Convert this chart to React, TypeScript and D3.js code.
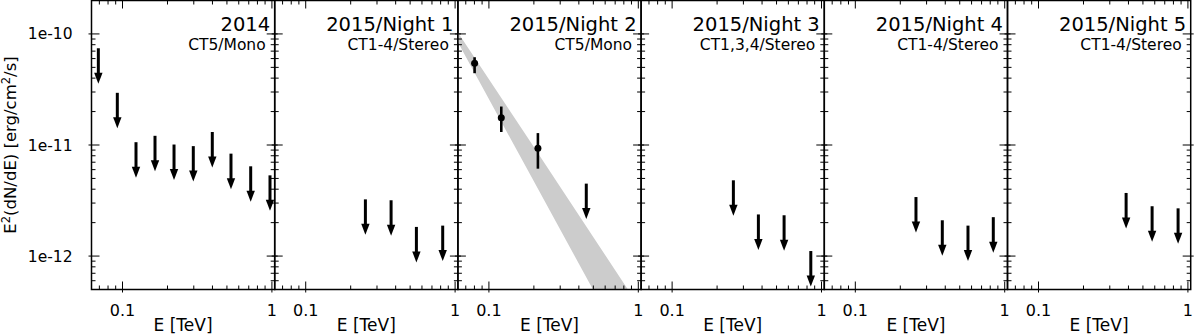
import React, { useEffect, useRef } from 'react'
import { select, scaleLog } from 'd3'

// panel headers
const panelTitles = ['2014', '2015/Night 1', '2015/Night 2', '2015/Night 3', '2015/Night 4', '2015/Night 5']
const panelSubtitles = ['CT5/Mono', 'CT1-4/Stereo', 'CT5/Mono', 'CT1,3,4/Stereo', 'CT1-4/Stereo', 'CT1-4/Stereo']

// upper limits, E [TeV] and E^2 dN/dE [erg/cm2/s]
const ul2014E = [0.0689, 0.0923, 0.1231, 0.165, 0.2212, 0.2977, 0.399, 0.5322, 0.7211, 0.971]
const ul2014F = [7.43e-11, 2.95e-11, 1.06e-11, 1.21e-11, 1.01e-11, 9.77e-12, 1.31e-11, 8.36e-12, 6.43e-12, 5.33e-12]
const ulNight1E = [0.2509, 0.3728, 0.5507, 0.826]
const ulNight1F = [3.24e-12, 3.18e-12, 1.83e-12, 1.88e-12]
const ulNight2E = [0.4485]
const ulNight2F = [4.49e-12]
const ulNight3E = [0.2571, 0.378, 0.5618, 0.8479]
const ulNight3F = [4.81e-12, 2.37e-12, 2.33e-12, 1.11e-12]
const ulNight4E = [0.2547, 0.3822, 0.5678, 0.8387]
const ulNight4F = [3.4e-12, 2.1e-12, 1.88e-12, 2.24e-12]
const ulNight5E = [0.3858, 0.5759, 0.8596]
const ulNight5F = [3.7e-12, 2.81e-12, 2.69e-12]

// night 2 flux points with errors
const night2E = [0.0802, 0.121, 0.2128]
const night2F = [5.44e-11, 1.76e-11, 9.37e-12]
const night2Lo = [4.43e-11, 1.31e-11, 6.12e-12]
const night2Hi = [6.17e-11, 2.22e-11, 1.28e-11]

// night 2 fitted spectrum band edges
const bandUpperE = [0.062, 0.192, 0.852]
const bandUpperF = [1.03e-10, 1.04e-11, 5.0e-13]
const bandLowerE = [0.062, 0.192, 0.497]
const bandLowerF = [8.4e-11, 5.2e-12, 5.0e-13]

const ulE = [ul2014E, ulNight1E, ulNight2E, ulNight3E, ulNight4E, ulNight5E]
const ulF = [ul2014F, ulNight1F, ulNight2F, ulNight3F, ulNight4F, ulNight5F]

const xMajor = [0.1, 1]
const xMajorLabels = ['0.1', '1']
const xMinor = [0.07, 0.08, 0.09, 0.2, 0.3, 0.4, 0.5, 0.6, 0.7, 0.8, 0.9]
const yMajor = [1e-12, 1e-11, 1e-10]
const yMajorLabels = ['1e-12', '1e-11', '1e-10']
const yMinor = [6e-13, 7e-13, 8e-13, 9e-13,
  2e-12, 3e-12, 4e-12, 5e-12, 6e-12, 7e-12, 8e-12, 9e-12,
  2e-11, 3e-11, 4e-11, 5e-11, 6e-11, 7e-11, 8e-11, 9e-11]

function SedPanels() {
  const ref = useRef<SVGSVGElement>(null)

  useEffect(() => {
    const svg = select(ref.current)
    svg.selectAll('*').remove()

    const left = 91.5
    const panelW = 183.2
    const top = 0.5
    const bottom = 289.5
    const font = 'DejaVu Sans'

    const x = scaleLog().domain([0.062, 1.044]).range([0, panelW])
    const y = scaleLog().domain([5e-13, 2e-10]).range([bottom, top])

    const majLen = 8, minLen = 4, outLen = 3

    panelTitles.forEach((title, i) => {
      const g = svg.append('g').attr('transform', `translate(${left + i * panelW},0)`)

      // clip for band
      const clipId = `clip${i}`
      g.append('clipPath').attr('id', clipId)
        .append('rect').attr('x', 0).attr('y', top).attr('width', panelW).attr('height', bottom - top)

      if (i === 2) {
        const pts: [number, number][] = []
        bandUpperE.forEach((e, k) => pts.push([x(e), y(bandUpperF[k])]))
        for (let k = bandLowerE.length - 1; k >= 0; k--) pts.push([x(bandLowerE[k]), y(bandLowerF[k])])
        g.append('path')
          .attr('clip-path', `url(#${clipId})`)
          .attr('d', 'M' + pts.map(p => p.join(',')).join('L') + 'Z')
          .attr('fill', '#cccccc')

        // points with error bars
        night2E.forEach((e, k) => {
          g.append('line')
            .attr('x1', x(e)).attr('x2', x(e))
            .attr('y1', y(night2Lo[k])).attr('y2', y(night2Hi[k]))
            .attr('stroke', 'black').attr('stroke-width', 2.6)
          g.append('circle')
            .attr('cx', x(e)).attr('cy', y(night2F[k])).attr('r', 3.5)
            .attr('fill', 'black')
        })
      }

      // upper limit arrows
      ulE[i].forEach((e, k) => {
        const ax = x(e)
        const ay = y(ulF[i][k])
        const len = 35.5, headL = 11, headW = 4.2
        g.append('line')
          .attr('x1', ax).attr('x2', ax)
          .attr('y1', ay).attr('y2', ay + len - headL + 1)
          .attr('stroke', 'black').attr('stroke-width', 3)
        g.append('path')
          .attr('d', `M${ax - headW},${ay + len - headL}L${ax + headW},${ay + len - headL}L${ax},${ay + len}Z`)
          .attr('fill', 'black')
      })

      // ticks
      const ticks = g.append('g').attr('stroke', 'black').attr('stroke-width', 1)
      xMajor.forEach(v => {
        const px = x(v)
        ticks.append('line').attr('x1', px).attr('x2', px).attr('y1', bottom + outLen).attr('y2', bottom - majLen)
        ticks.append('line').attr('x1', px).attr('x2', px).attr('y1', top - outLen).attr('y2', top + majLen)
      })
      xMinor.forEach(v => {
        const px = x(v)
        ticks.append('line').attr('x1', px).attr('x2', px).attr('y1', bottom).attr('y2', bottom - minLen)
        ticks.append('line').attr('x1', px).attr('x2', px).attr('y1', top).attr('y2', top + minLen)
      })
      yMajor.forEach(v => {
        const py = y(v)
        ticks.append('line').attr('x1', -outLen).attr('x2', majLen).attr('y1', py).attr('y2', py)
        ticks.append('line').attr('x1', panelW - majLen).attr('x2', panelW + outLen).attr('y1', py).attr('y2', py)
      })
      yMinor.forEach(v => {
        const py = y(v)
        ticks.append('line').attr('x1', 0).attr('x2', minLen).attr('y1', py).attr('y2', py)
        ticks.append('line').attr('x1', panelW - minLen).attr('x2', panelW).attr('y1', py).attr('y2', py)
      })

      // frame
      g.append('rect')
        .attr('x', 0).attr('y', top).attr('width', panelW).attr('height', bottom - top)
        .attr('fill', 'none').attr('stroke', 'black').attr('stroke-width', 1.5)

      // x tick labels
      xMajor.forEach((v, k) => {
        g.append('text')
          .attr('x', x(v)).attr('y', 315.5)
          .attr('text-anchor', 'middle')
          .attr('font-family', font).attr('font-size', 16)
          .text(xMajorLabels[k])
      })

      g.append('text')
        .attr('x', panelW / 2).attr('y', 330.5)
        .attr('text-anchor', 'middle')
        .attr('font-family', font).attr('font-size', 17)
        .text('E [TeV]')

      // titles
      g.append('text')
        .attr('x', panelW - 4.5).attr('y', 30.5)
        .attr('text-anchor', 'end')
        .attr('font-family', font).attr('font-size', 19.5)
        .text(title)
      g.append('text')
        .attr('x', panelW - 9).attr('y', 49.5)
        .attr('text-anchor', 'end')
        .attr('font-family', font).attr('font-size', 15.5)
        .text(panelSubtitles[i])

      if (i === 0) {
        yMajor.forEach((v, k) => {
          g.append('text')
            .attr('x', -19).attr('y', y(v) + 5.5)
            .attr('text-anchor', 'end')
            .attr('font-family', font).attr('font-size', 15.5)
            .text(yMajorLabels[k])
        })
      }
    })

    // y axis label
    const yl = svg.append('text')
      .attr('transform', `translate(16,${(top + bottom) / 2}) rotate(-90)`)
      .attr('text-anchor', 'middle')
      .attr('font-family', font).attr('font-size', 16.5)
    yl.append('tspan').text('E')
    yl.append('tspan').attr('font-size', 11.5).attr('dy', -6.5).text('2')
    yl.append('tspan').attr('dy', 6.5).text('(dN/dE) [erg/cm')
    yl.append('tspan').attr('font-size', 11.5).attr('dy', -6.5).text('2')
    yl.append('tspan').attr('dy', 6.5).text('/s]')
  }, [])

  return (
    <svg ref={ref} width={1200} height={335}
      style={{ position: 'absolute', left: 0, top: 0, background: 'white' }} />
  )
}

export default function App() {
  return <SedPanels />
}
